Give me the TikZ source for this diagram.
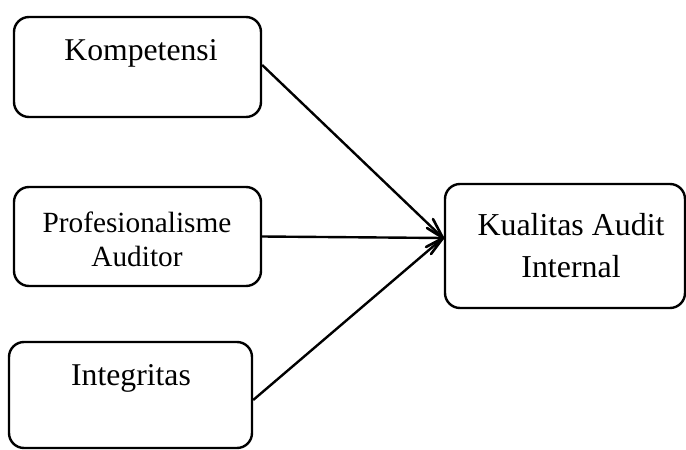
\documentclass[tikz,border=0pt]{standalone}
\usepackage{fontspec}
\setmainfont{Liberation Serif}
\begin{document}
\begin{tikzpicture}[x=1pt,y=1pt,
  box/.style={draw,line width=2.4pt,rounded corners=15pt,inner sep=0pt},
  lbl/.style={align=center,font=\fontsize{31.7}{34}\selectfont},
  conn/.style={line width=2.4pt},
  vtip/.style={line width=2.6pt,line cap=round,line join=miter}]
\useasboundingbox (0,0) rectangle (686,-450);
\node[box,minimum width=247pt,minimum height=100pt] (b1) at (137.5,-67) {};
\node[lbl] (t1) at (141,-53) {Kompetensi};
\node[box,minimum width=247pt,minimum height=99pt] (b2) at (137.5,-236.5) {};
\node[lbl,font=\fontsize{29.3}{34}\selectfont] (t2) at (137,-239) {Profesionalisme\\Auditor};
\node[box,minimum width=243pt,minimum height=106pt] (b3) at (130.5,-395) {};
\node[lbl] (t3) at (131,-378) {Integritas};
\node[box,minimum width=240pt,minimum height=124pt] (b4) at (565,-246) {};
\node[lbl,font=\fontsize{31.9}{42}\selectfont] (t4) at (571,-246) {Kualitas Audit\\Internal};
\coordinate (tip) at (443,-238);
\draw[conn] (b1.east |- 0,-65) -- (tip);
\draw[conn] (b2.east) -- (tip);
\draw[conn] (b3.east |- 0,-400) -- (tip);
\draw[vtip] (tip) ++(-10,19) -- (tip) -- ++(-17,-9);
\draw[vtip] (tip) ++(-16,10) -- (tip) -- ++(-12,-16);
\end{tikzpicture}
\end{document}
